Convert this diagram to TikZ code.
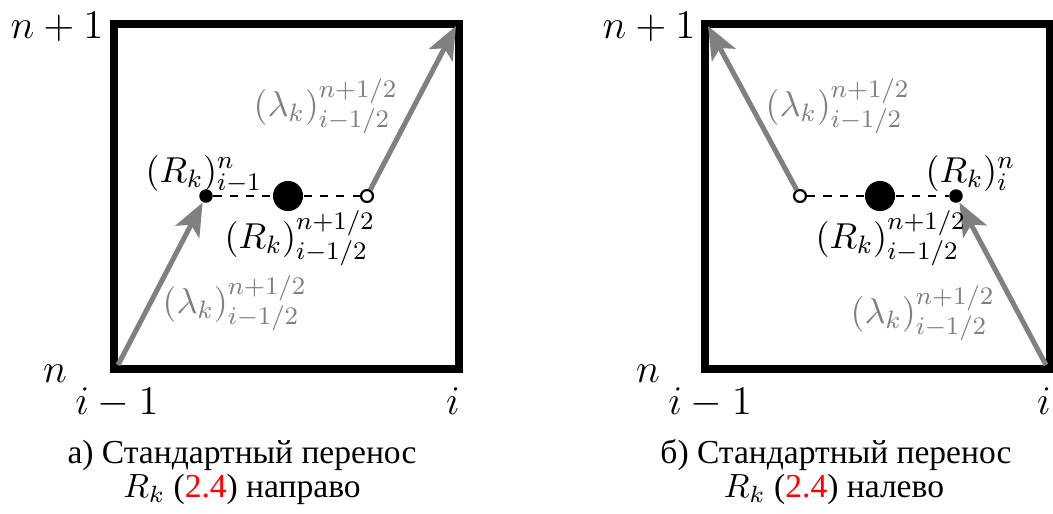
\documentclass[tikz,border=0pt]{standalone}
\usepackage{fix-cm}
\usepackage{fontspec}
\newfontfamily\cyrfont{Liberation Serif}
\usetikzlibrary{arrows.meta}
\definecolor{arrgray}{gray}{0.5}
\begin{document}
\begin{tikzpicture}[x=0.319pt,y=-0.319pt,
  frame/.style={line width=2.55pt},
  tr/.style={draw=arrgray, line width=1.6pt, -{Stealth[length=10.5pt,width=8.5pt,inset=2.5pt]}},
  dotsm/.style={circle, fill=black, inner sep=0pt, minimum size=4.3pt},
  dotbig/.style={circle, fill=black, inner sep=0pt, minimum size=9.6pt},
  dotopen/.style={circle, draw=black, fill=white, line width=0.7pt, inner sep=0pt, minimum size=3.8pt},
  dashline/.style={line width=0.6pt, dash pattern=on 2.6pt off 2.6pt},
  big/.style={font=\fontsize{13}{15}\selectfont, inner sep=0pt},
  lbl/.style={font=\fontsize{11.5}{14}\selectfont, inner sep=0pt},
  glbl/.style={lbl, text=arrgray},
  captxt/.style={font=\fontsize{10.7}{13}\cyrfont, inner sep=0pt}
]
\useasboundingbox (0,0) rectangle (1053,513);
% ---------- left panel ----------
\coordinate (Lbl) at (114,369);
\coordinate (Ltr) at (459,24);
\coordinate (Lin1) at (118,365);
\coordinate (Lin2) at (456,26);
\draw[frame] (Lbl) rectangle (Ltr);
\node[dotsm] (Lp) at (206,196) {};
\node[dotbig] (Lm) at (288,196) {};
\node[dotopen] (Lq) at (367,196) {};
\draw[dashline] (Lp) -- (Lm) -- (Lq);
\draw[tr] (Lin1) -- (Lp);
\draw[tr] (Lq) -- (Lin2);
\node[big, anchor=base] (Ln1) at (57,38) {$n+1$};
\node[big, anchor=base] (Ln) at (55,382) {$n$};
\node[big, anchor=base] (Lim) at (117,414) {$i-1$};
\node[big, anchor=base] (Li) at (453,414) {$i$};
\node[lbl, anchor=base west] (LRn) at (145,182) {$(R_k)^n_{i-1}$};
\node[lbl, anchor=base west] (LRh) at (224,248) {$(R_k)^{n+1/2}_{i-1/2}$};
\node[glbl, anchor=base west] (Llu) at (253,116) {$(\lambda_k)^{n+1/2}_{i-1/2}$};
\node[glbl, anchor=base west] (Lll) at (162,313) {$(\lambda_k)^{n+1/2}_{i-1/2}$};
\node[captxt, anchor=base] (Lc1) at (242,463) {а) Стандартный перенос};
\node[captxt, anchor=base] (Lc2) at (242,497) {$R_k$ (\textcolor{red}{2.4}) направо};
% ---------- right panel ----------
\coordinate (Rbl) at (705,369);
\coordinate (Rtr) at (1050,24);
\coordinate (Rin1) at (1046,365);
\coordinate (Rin2) at (708,26);
\draw[frame] (Rbl) rectangle (Rtr);
\node[dotopen] (Rq) at (800,196) {};
\node[dotbig] (Rm) at (880,196) {};
\node[dotsm] (Rp) at (956,196) {};
\draw[dashline] (Rq) -- (Rm) -- (Rp);
\draw[tr] (Rin1) -- (Rp);
\draw[tr] (Rq) -- (Rin2);
\node[big, anchor=base] (Rn1) at (649,38) {$n+1$};
\node[big, anchor=base] (Rn) at (648,382) {$n$};
\node[big, anchor=base] (Rim) at (710,414) {$i-1$};
\node[big, anchor=base] (Ri) at (1044,414) {$i$};
\node[lbl, anchor=base west] (RRn) at (925,182) {$(R_k)^n_{i}$};
\node[lbl, anchor=base west] (RRh) at (815,248) {$(R_k)^{n+1/2}_{i-1/2}$};
\node[glbl, anchor=base west] (Rlu) at (765,116) {$(\lambda_k)^{n+1/2}_{i-1/2}$};
\node[glbl, anchor=base west] (Rll) at (850,323) {$(\lambda_k)^{n+1/2}_{i-1/2}$};
\node[captxt, anchor=base] (Rc1) at (836,463) {б) Стандартный перенос};
\node[captxt, anchor=base] (Rc2) at (834,497) {$R_k$ (\textcolor{red}{2.4}) налево};
\end{tikzpicture}
\end{document}
